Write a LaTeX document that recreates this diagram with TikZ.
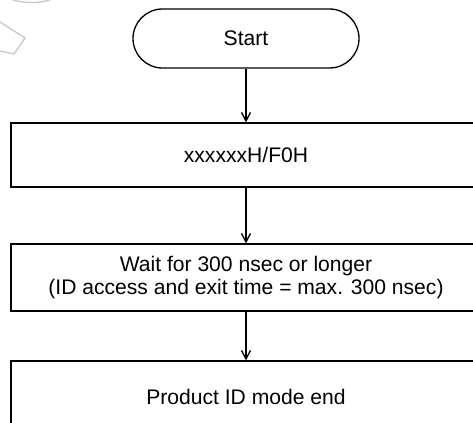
\documentclass[tikz,border=0pt]{standalone}
\usepackage{fontspec}
\setmainfont{Liberation Sans}
\usetikzlibrary{arrows.meta}
\definecolor{markgray}{RGB}{200, 200, 200}

\tikzset{
    termbox/.style={draw=black, line width=0.75pt, rounded corners=0.59cm, minimum width=4.52cm, minimum height=1.18cm, inner sep=0pt, font=\fontsize{12}{13}\selectfont},
    procbox/.style={draw=black, line width=0.75pt, minimum width=9.4cm, inner sep=0pt, align=center, font=\fontsize{12}{13}\selectfont},
    flowarrow/.style={-{Straight Barb[length=0.17cm, width=0.18cm]}, line width=0.75pt}
}

\begin{document}
\begin{tikzpicture}
    \useasboundingbox (0,0) rectangle (9.46,-8.46);
    \clip (0,0) rectangle (9.46,-8.46);
    % faint mark in the corner
    \draw[markgray, line width=0.75pt] (0.26,0) .. controls (0.5,-0.066) and (0.78,-0.066) .. (1.0,0);
    \draw[markgray, line width=0.75pt] (0,-0.44) -- (0.5,-0.76) -- (0.28,-1.08) -- (0,-1.02);

    \node[termbox] (start) at (4.92,-0.77) {Start};
    \node[procbox, minimum height=1.28cm] (cmd) at (4.92,-3.10) {xxxxxxH/F0H};
    \node[procbox, minimum height=1.34cm] (wait) at (4.92,-5.55) {Wait for 300 nsec or longer\\(ID access and exit time = max. 300 nsec)};
    \node[procbox, minimum height=1.44cm] (done) at (4.92,-7.94) {Product ID mode end};

    \draw[flowarrow] (start) -- (cmd);
    \draw[flowarrow] (cmd) -- (wait);
    \draw[flowarrow] (wait) -- (done);
\end{tikzpicture}
\end{document}
